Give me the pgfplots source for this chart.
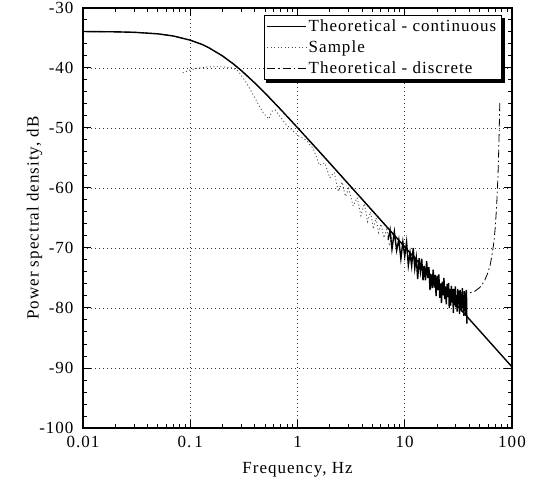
\documentclass[border=0pt]{standalone}
\usepackage{fontspec}
\setmainfont{Liberation Serif}[LetterSpace=6]
\usepackage{pgfplots}
\pgfplotsset{compat=1.18}

\begin{document}
\begin{tikzpicture}
\begin{axis}[
    at={(0,0)}, anchor=south west,
    scale only axis,
    width=429bp, height=420bp,
    xmode=log,
    xmin=0.01, xmax=100,
    ymin=-100, ymax=-30,
    xtick={0.01,0.1,1,10,100},
    xticklabels={0.01,{0.\,1},1,10,100},
    ytick={-100,-90,-80,-70,-60,-50,-40,-30},
    yticklabels={-100,-90,-80,-70,-60,-50,-40,-30},
    minor y tick num=4,
    grid=major,
    grid style={dash pattern=on 1bp off 3bp, line width=0.6bp, black!80},
    axis line style={line width=1.3bp},
    tick style={line width=1bp, black},
    major tick length=8bp,
    minor tick length=4bp,
    tick label style={font=\fontsize{17bp}{20bp}\selectfont},
    yticklabel style={xshift=-6bp},
    xticklabel style={yshift=-5bp},
    xlabel={Frequency, Hz},
    ylabel={Power spectral density, dB},
    every axis x label/.style={at={(axis description cs:0.5,-0.1)}, anchor=center,
        font=\fontsize{17bp}{20bp}\selectfont},
    every axis y label/.style={at={(axis description cs:-0.113,0.5)}, rotate=90, anchor=center,
        font=\fontsize{17bp}{20bp}\selectfont},
    legend cell align=left,
    legend style={at={(0.976,0.983)}, anchor=north east, name=leg,
        font=\fontsize{17bp}{19bp}\selectfont,
        draw=black, line width=0.8bp, fill=white,
        row sep=3.5bp, inner ysep=2.5bp, inner xsep=3bp},
    legend image code/.code={\draw[#1, line width=0.8bp] (0bp,0bp) -- (39bp,0bp);},
]
% Theoretical - continuous
\addplot[black, line width=1.4bp] coordinates {
(0.01,-33.92) (0.02,-33.97) (0.03,-34.05) (0.05,-34.31) (0.07,-34.67)
(0.1,-35.36) (0.13,-36.10) (0.15,-36.65) (0.2,-37.99) (0.25,-39.27)
(0.3,-40.44) (0.4,-42.50) (0.5,-44.21) (0.7,-46.95) (1,-49.94)
(1.5,-53.39) (2,-55.86) (3,-59.37) (5,-63.80) (10,-69.82)
(20,-75.84) (50,-83.80) (100,-89.82)
};
\addlegendentry{Theoretical - continuous}
% Sample (low frequency part, dotted)
\addplot[black!70, line width=0.9bp, dash pattern=on 1bp off 2.5bp] coordinates {
(0.085,-40.8) (0.1,-40.3) (0.12,-40.0) (0.15,-39.8) (0.2,-39.8) (0.25,-40.0)
(0.28,-40.5) (0.33,-42.3) (0.38,-44.2) (0.43,-46.0) (0.48,-47.5) (0.54,-48.5)
(0.58,-47.2) (0.62,-47.0) (0.7,-48.3) (0.8,-49.6) (0.9,-50.4) (1.0,-51.2)
(1.2,-52.0) (1.4,-53.4) (1.6,-56.2) (1.8,-55.8) (2.0,-58.3) (2.2,-57.4)
(2.4,-60.6) (2.6,-59.0) (2.8,-61.4) (3.0,-60.1) (3.3,-63.0) (3.6,-61.6)
(3.9,-64.6) (4.2,-62.6) (4.5,-65.6) (4.8,-64.0) (5.1,-66.8) (5.4,-65.0)
(5.7,-67.4) (6.0,-66.0) (6.4,-68.3) (6.8,-66.9) (7.2,-69.6) (7.6,-68.0)
(8.0,-67.3)
};
\addlegendentry{Sample}
% Sample (dense scatter near Nyquist)
\addplot[black, line width=1.4bp, forget plot] coordinates {
(7.0,-68.6) (7.3,-67.0) (7.6,-70.2) (8.0,-67.3) (8.4,-70.4) (8.8,-68.6)
(9.2,-71.8) (9.6,-69.0) (10.0,-71.4) (10.4,-69.0) (10.8,-72.9) (11.2,-70.8)
(11.6,-73.0) (12.0,-70.0) (12.4,-73.4) (12.8,-71.6) (13.2,-75.2) (13.6,-71.7)
(14.0,-73.9) (14.4,-71.8) (14.8,-75.4) (15.2,-73.0) (15.6,-75.4) (16.0,-72.2)
(16.4,-75.0) (16.8,-73.2) (17.2,-77.0) (17.6,-74.4) (18.0,-76.7) (18.4,-73.6)
(18.8,-76.6) (19.2,-74.5) (19.6,-78.0) (20.0,-74.6) (20.4,-77.0) (20.8,-74.4)
(21.2,-78.3) (21.6,-75.9) (22.0,-79.2) (22.4,-75.6) (22.8,-77.9) (23.2,-75.0)
(23.6,-78.5) (24.0,-76.5) (24.4,-79.4) (24.8,-76.0) (25.2,-78.2) (25.6,-75.8)
(26.0,-80.0) (26.4,-76.9) (26.8,-79.6) (27.2,-76.3) (27.6,-79.1) (28.0,-76.8)
(28.4,-80.8) (28.8,-76.8) (29.2,-79.5) (29.6,-76.4) (30.0,-79.9) (30.4,-77.8)
(30.8,-80.6) (31.2,-76.8) (31.6,-79.4) (32.0,-77.2) (32.4,-81.0) (32.8,-77.0)
(33.2,-80.0) (33.6,-77.6) (34.0,-80.6) (34.4,-76.7) (34.8,-79.9) (35.2,-77.8)
(35.6,-81.3) (36.0,-77.2) (36.4,-80.5) (36.8,-77.6) (37.2,-81.0) (37.6,-77.0)
(38.0,-82.6)
};
% Theoretical - discrete
\addplot[black, line width=0.8bp, dash pattern=on 8bp off 3bp on 1.5bp off 3bp] coordinates {
(0.01,-33.92) (0.02,-33.97) (0.03,-34.05) (0.05,-34.31) (0.07,-34.67)
(0.1,-35.36) (0.13,-36.10) (0.15,-36.65) (0.2,-37.99) (0.25,-39.27)
(0.3,-40.44) (0.4,-42.50) (0.5,-44.21) (0.7,-46.95) (1,-49.94)
(1.5,-53.39) (2,-55.86) (3,-59.37) (5,-63.80) (10,-69.82)
(12,-71.3) (15,-73.2) (20,-75.5) (25,-76.7) (30,-77.3) (35,-77.5)
(40,-77.5) (45,-77.2) (50,-76.6) (55,-75.6) (60,-74.0) (63,-72.6)
(66,-70.5) (68,-68.8) (70,-66.3) (72,-62.8) (74,-58.0) (75,-54.5)
(76,-50.5) (77,-45.5)
};
\addlegendentry{Theoretical - discrete}
\end{axis}
% legend shadow (thick right and bottom edges)
\draw[black, line width=2.6bp]
    ([shift={(1.7bp,-2.6bp)}]leg.north east) -- ([shift={(1.7bp,-1.7bp)}]leg.south east)
    -- ([shift={(2.6bp,-1.7bp)}]leg.south west);
\pgfresetboundingbox
\path (-83bp,-56bp) rectangle (458bp,428bp);
\end{tikzpicture}
\end{document}
